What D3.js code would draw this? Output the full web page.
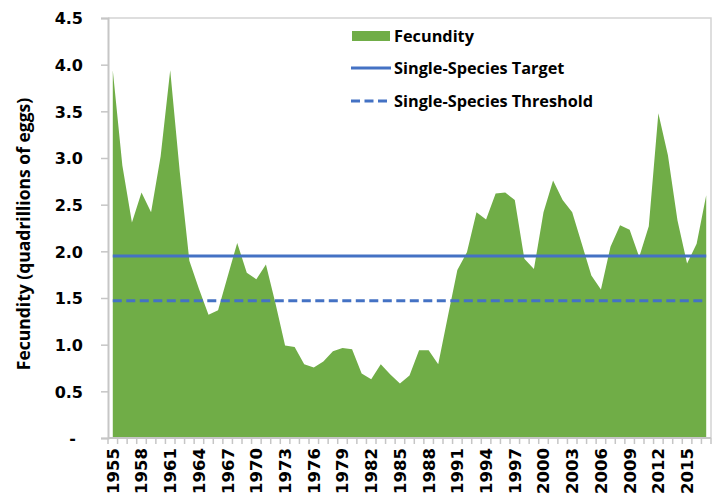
<!DOCTYPE html>
<html>
<head>
<meta charset="utf-8">
<script src="https://cdn.jsdelivr.net/npm/d3@7"></script>
<style>
  html, body { margin: 0; padding: 0; background: #fff; }
  svg { display: block; }
</style>
</head>
<body>
<svg id="chart" width="718" height="500"></svg>
<script>
// ---- data ----
const years = d3.range(1955, 2018);
const fecundity = [
  3.94, 2.92, 2.31, 2.63, 2.42, 3.02, 3.94, 2.85, 1.90, 1.60,
  1.32, 1.37, 1.73, 2.09, 1.77, 1.70, 1.86, 1.44, 0.99, 0.975,
  0.79, 0.755, 0.82, 0.93, 0.965, 0.95, 0.69, 0.63, 0.79, 0.68,
  0.585, 0.67, 0.94, 0.94, 0.79, 1.30, 1.80, 1.99, 2.42, 2.34,
  2.62, 2.63, 2.55, 1.92, 1.81, 2.42, 2.76, 2.55, 2.42, 2.08,
  1.74, 1.59, 2.05, 2.28, 2.23, 1.94, 2.27, 3.48, 3.03, 2.33,
  1.87, 2.08, 2.60
];
const target = years.map(() => 1.95);
const threshold = years.map(() => 1.47);
const yTicks = [0, 0.5, 1.0, 1.5, 2.0, 2.5, 3.0, 3.5, 4.0, 4.5];
const yTickLabels = ["-", "0.5", "1.0", "1.5", "2.0", "2.5", "3.0", "3.5", "4.0", "4.5"];
const xLabelYears = years.filter((yr, i) => i % 3 === 0);
const legendItems = ["Fecundity", "Single-Species Target", "Single-Species Threshold"];

(function () {
// ---- layout ----
const svg = d3.select("#chart");
const pL = 108, pR = 711, pT = 18, pB = 438;
const green = "#70AD47", blue = "#4472C4", axisCol = "#c6c6c6";
const textFont = "'Open Sans', sans-serif";
const numFont = "'DejaVu Sans', sans-serif";

const x = d3.scaleBand().domain(years).range([pL, pR]).padding(0);
const xc = yr => x(yr) + x.bandwidth() / 2;
const y = d3.scaleLinear().domain([0, 4.5]).range([pB, pT]);

// plot border (top/right)
svg.append("path")
  .attr("d", `M${pL},${pT}H${pR}V${pB}`)
  .attr("fill", "none").attr("stroke", "#d4d4d4").attr("stroke-width", 1.5);

// area
const area = d3.area()
  .x((d, i) => xc(years[i]))
  .y0(y(0))
  .y1(d => y(d));
svg.append("path").datum(fecundity)
  .attr("d", area).attr("fill", green);

// lines
const line = d3.line().x((d, i) => xc(years[i])).y(d => y(d));
svg.append("path").datum(target)
  .attr("d", line).attr("fill", "none").attr("stroke", blue).attr("stroke-width", 3);
svg.append("path").datum(threshold)
  .attr("d", line).attr("fill", "none").attr("stroke", blue).attr("stroke-width", 3)
  .attr("stroke-dasharray", "9,4.5");

// y axis
const yAxis = d3.axisLeft(y).tickValues(yTicks).tickSize(7).tickFormat((d, i) => yTickLabels[i]);
const gy = svg.append("g").attr("transform", `translate(${pL},0)`).call(yAxis);
gy.select(".domain").attr("stroke", axisCol).attr("stroke-width", 2);
gy.selectAll(".tick line").attr("stroke", axisCol).attr("stroke-width", 1.5);
gy.selectAll(".tick text")
  .attr("x", d => d === 0 ? -32 : -25)
  .attr("dy", "0.36em")
  .style("font-family", numFont).style("font-weight", "bold").style("font-size", "16px")
  .attr("fill", "#000");

// x axis
const gx = svg.append("g").attr("transform", `translate(0,${pB})`);
gx.append("line").attr("x1", pL).attr("x2", pR).attr("y1", 0).attr("y2", 0)
  .attr("stroke", axisCol).attr("stroke-width", 2);
const boundaries = years.map(yr => x(yr)).concat([pR]);
gx.selectAll("line.tk").data(boundaries).join("line").attr("class", "tk")
  .attr("x1", d => d).attr("x2", d => d).attr("y1", 0).attr("y2", 6)
  .attr("stroke", axisCol).attr("stroke-width", 1.5);
gx.selectAll("text").data(xLabelYears).join("text")
  .attr("transform", d => `translate(${xc(d)},10) rotate(-90)`)
  .attr("text-anchor", "end").attr("dy", "0.36em")
  .style("font-family", numFont).style("font-weight", "bold").style("font-size", "16.5px")
  .text(d => d);

// y title
svg.append("text")
  .attr("transform", "translate(24,234) rotate(-90)")
  .attr("text-anchor", "middle").attr("dy", "0.36em")
  .style("font-family", textFont).style("font-weight", "bold").style("font-size", "17.5px")
  .text("Fecundity (quadrillions of eggs)");

// legend
const lg = svg.append("g");
const rowY = [36, 68, 101];
lg.append("rect").attr("x", 352).attr("y", rowY[0] - 5).attr("width", 38).attr("height", 10).attr("fill", green);
lg.append("line").attr("x1", 351).attr("x2", 391).attr("y1", rowY[1]).attr("y2", rowY[1])
  .attr("stroke", blue).attr("stroke-width", 3);
lg.append("line").attr("x1", 351).attr("x2", 391).attr("y1", rowY[2]).attr("y2", rowY[2])
  .attr("stroke", blue).attr("stroke-width", 3).attr("stroke-dasharray", "9,4.5");
lg.selectAll("text").data(legendItems).join("text")
  .attr("x", 394).attr("y", (d, i) => rowY[i]).attr("dy", "0.36em")
  .style("font-family", textFont).style("font-weight", "bold").style("font-size", "16.3px")
  .text(d => d);
})();
</script>
</body>
</html>
